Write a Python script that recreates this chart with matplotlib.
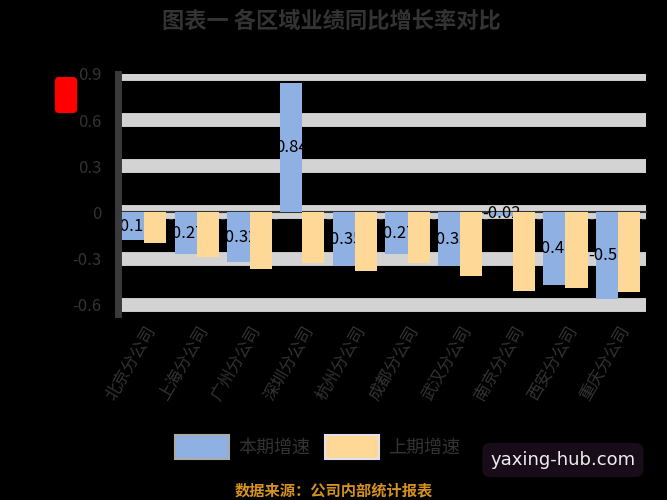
import numpy as np
import matplotlib
matplotlib.use("Agg")
import matplotlib.pyplot as plt
from matplotlib.ticker import FuncFormatter

plt.rcParams['font.family'] = ['Noto Sans CJK SC', 'DejaVu Sans']

# ---- data ----
title = "图表一 各区域业绩同比增长率对比"
categories = ["北京分公司", "上海分公司", "广州分公司", "深圳分公司", "杭州分公司",
              "成都分公司", "武汉分公司", "南京分公司", "西安分公司", "重庆分公司"]
series_names = ["本期增速", "上期增速"]
current = [-0.18, -0.27, -0.32, 0.84, -0.35, -0.27, -0.35, -0.02, -0.47, -0.56]
previous = [-0.20, -0.29, -0.37, -0.33, -0.38, -0.33, -0.41, -0.51, -0.49, -0.52]
yticks = [-0.6, -0.3, 0.0, 0.3, 0.6, 0.9]
unit_label = "单位"
source_note = "数据来源：公司内部统计报表"
watermark = "yaxing-hub.com"

BLUE = "#8fb0e2"
ORANGE = "#fed896"
TEXT = "#333333"

fig = plt.figure(figsize=(6.67, 5), dpi=100, facecolor="black")
W, H = 667, 500
ax = fig.add_axes([118 / W, 1 - 314 / H, (646 - 118) / W, (314 - 74) / H])
ax.set_facecolor("black")

x = np.arange(len(categories))
w = 0.42
ax.bar(x - w / 2, current, w, color=BLUE, zorder=2)
for xi, v in zip(x, current):
    ax.text(xi - w / 2, v / 2, f"{v:.2f}", ha="center", va="center",
            color="black", fontsize=12, zorder=2.5)
ax.bar(x + w / 2, previous, w, color=ORANGE, zorder=3)

ax.set_xlim(-0.47, len(categories) - 0.47)
ax.set_ylim(-0.66, 0.9)
ax.set_yticks(yticks)
ax.yaxis.set_major_formatter(FuncFormatter(lambda v, p: "0" if abs(v) < 1e-9 else f"{v:.1f}"))
ax.yaxis.grid(True, color="#d3d3d3", lw=10)
ax.set_axisbelow(True)
ax.tick_params(axis="y", length=0, pad=12, labelcolor=TEXT, labelsize=12)

for s in ("top", "right"):
    ax.spines[s].set_visible(False)
ax.spines["left"].set_color("#3a3a3a")
ax.spines["left"].set_linewidth(5)
ax.spines["bottom"].set_position(("data", 0))
ax.spines["bottom"].set_color(TEXT)
ax.spines["bottom"].set_linewidth(1.5)
ax.spines["bottom"].set_zorder(1.5)
ax.set_xticks(np.arange(len(categories) + 1) - 0.5)
ax.set_xticklabels([])
ax.tick_params(axis="x", length=6, width=3, color=TEXT, direction="out")

sec = ax.secondary_xaxis(0.0)
sec.set_xticks(x, categories, rotation=60, ha="right", rotation_mode="anchor")
sec.tick_params(length=0, pad=6, labelcolor=TEXT, labelsize=12)
for s in sec.spines.values():
    s.set_visible(False)

fig.text(331 / W, 1 - 21 / H, title, ha="center", va="center", fontsize=16,
         fontweight="bold", color=TEXT)

fig.text(66 / W, 1 - 95 / H, unit_label, rotation=90, ha="center", va="center",
         fontsize=10, color="red",
         bbox=dict(boxstyle="round,pad=0.25", fc="red", ec="red"))

handles = [plt.Rectangle((0, 0), 1, 1, fc=BLUE, ec="#aaaaaa", lw=1.5),
           plt.Rectangle((0, 0), 1, 1, fc=ORANGE, ec="#e0e0ee", lw=1.5)]
fig.legend(handles, series_names, loc="center left",
           bbox_to_anchor=(166 / W, 1 - 447 / H), ncol=2, frameon=False,
           fontsize=13, handlelength=3.0, handleheight=1.7, handletextpad=0.5,
           columnspacing=0.8, borderpad=0, labelcolor=TEXT)

fig.text(334 / W, 1 - 490 / H, source_note, ha="center", va="center",
         fontsize=11, color="#d4921f", fontweight="bold")

fig.text(563 / W, 1 - 460 / H, watermark, ha="center", va="center",
         fontsize=13, color="#eeeeee", family="DejaVu Sans",
         bbox=dict(boxstyle="round,pad=0.45", fc="#170c18", ec="none"))

fig.savefig("out.png", dpi=100, facecolor="black")
